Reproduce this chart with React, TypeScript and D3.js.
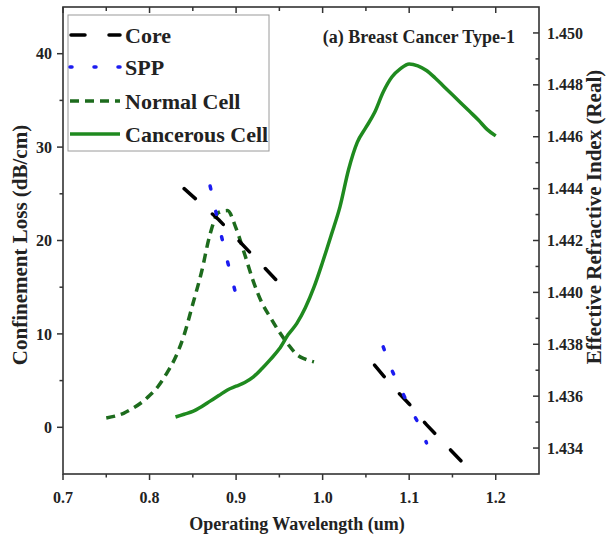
import * as d3 from "d3"

// operating wavelength (um) for each series
const coreWl = [0.84, 0.86, 0.88, 0.9, 0.92, 0.94, 0.96, 0.98, 1.0, 1.02, 1.04, 1.06, 1.08, 1.1, 1.12, 1.14, 1.16]
const coreNeff: (number | null)[] = [1.444, 1.4434, 1.4428, 1.4421, 1.4414, 1.4407, 1.44, null, null, null, null, 1.4372, 1.4364, 1.4357, 1.4349, 1.4342, 1.4335]

const sppWlA = [0.87, 0.88, 0.89, 0.9]
const sppNeffA = [1.4441, 1.4426, 1.4412, 1.4399]
const sppWlB = [1.07, 1.08, 1.09, 1.1, 1.11, 1.12]
const sppNeffB = [1.4379, 1.437, 1.4363, 1.4356, 1.435, 1.4342]

const normalWl = [0.75, 0.76, 0.77, 0.78, 0.79, 0.8, 0.81, 0.82, 0.83, 0.84, 0.85, 0.86, 0.87, 0.88, 0.89, 0.9, 0.91, 0.92, 0.93, 0.94, 0.95, 0.96, 0.97, 0.98, 0.99]
const normalLoss = [1.0, 1.2, 1.5, 2.0, 2.6, 3.4, 4.4, 5.8, 7.5, 9.9, 13.2, 16.6, 20.7, 23.0, 23.2, 21.3, 18.5, 15.6, 13.3, 11.7, 10.2, 8.9, 7.8, 7.3, 7.0]

const cancerWl = [0.83, 0.84, 0.85, 0.86, 0.87, 0.88, 0.89, 0.9, 0.91, 0.92, 0.93, 0.94, 0.95, 0.96, 0.97, 0.98, 0.99, 1.0, 1.01, 1.02, 1.03, 1.04, 1.05, 1.06, 1.07, 1.08, 1.09, 1.1, 1.11, 1.12, 1.13, 1.14, 1.15, 1.16, 1.17, 1.18, 1.19, 1.2]
const cancerLoss = [1.1, 1.4, 1.7, 2.2, 2.8, 3.4, 4.0, 4.4, 4.8, 5.4, 6.3, 7.3, 8.4, 9.9, 11.1, 12.8, 15.0, 17.7, 20.6, 23.6, 27.6, 30.5, 32.1, 33.7, 35.9, 37.5, 38.4, 38.9, 38.7, 38.2, 37.4, 36.5, 35.6, 34.7, 33.8, 32.9, 31.9, 31.2]

const xTicks = [0.7, 0.8, 0.9, 1.0, 1.1, 1.2]
const xMinor = [0.75, 0.85, 0.95, 1.05, 1.15]
const lossTicks = [0, 10, 20, 30, 40]
const lossMinor = [5, 15, 25, 35]
const neffTicks = [1.434, 1.436, 1.438, 1.44, 1.442, 1.444, 1.446, 1.448, 1.45]
const neffMinor = [1.435, 1.437, 1.439, 1.441, 1.443, 1.445, 1.447, 1.449]

const legendItems = ["Core", "SPP", "Normal Cell", "Cancerous Cell"]

const FONT = "'Liberation Serif', 'Times New Roman', serif"
const AXIS = "#333"

type Pt = [number, number | null]

export default function App() {
  const width = 608
  const height = 540
  const left = 63, right = 539, top = 7, bottom = 474

  const x = d3.scaleLinear().domain([0.7, 1.25]).range([left, right])
  const yL = d3.scaleLinear().domain([-5, 45]).range([bottom, top])
  const yR = d3.scaleLinear().domain([1.433, 1.451]).range([bottom, top])

  const lineR = d3
    .line<Pt>()
    .defined((d) => d[1] !== null)
    .x((d) => x(d[0]))
    .y((d) => yR(d[1] as number))
  const lineL = d3
    .line<Pt>()
    .x((d) => x(d[0]))
    .y((d) => yL(d[1] as number))
    .curve(d3.curveMonotoneX)

  const zip = (a: number[], b: (number | null)[]): Pt[] => a.map((v, i) => [v, b[i]])

  const styles = [
    { stroke: "#000", dash: "15,23", width: 3.5, cap: "round" },
    { stroke: "#1c1cf0", dash: "3,23", width: 3.5, cap: "round" },
    { stroke: "#1d6b1d", dash: "9,6", width: 3.5, cap: "butt" },
    { stroke: "#1f8a1f", dash: "none", width: 3.5, cap: "butt" },
  ]

  return (
    <svg width={width} height={height} style={{ position: "absolute", left: 0, top: 0, background: "#fff" }} fontFamily={FONT} fontWeight="bold">
      {/* series */}
      <path d={lineL(zip(normalWl, normalLoss)) ?? ""} fill="none" stroke={styles[2].stroke} strokeWidth={styles[2].width} strokeDasharray={styles[2].dash} />
      <path d={lineL(zip(cancerWl, cancerLoss)) ?? ""} fill="none" stroke={styles[3].stroke} strokeWidth={styles[3].width} />
      <path d={lineR(zip(coreWl, coreNeff)) ?? ""} fill="none" stroke="#000" strokeWidth={3.5} strokeDasharray={styles[0].dash} strokeLinecap="round" />
      <path d={lineR(zip(sppWlA, sppNeffA)) ?? ""} fill="none" stroke={styles[1].stroke} strokeWidth={3.5} strokeDasharray={styles[1].dash} strokeLinecap="round" />
      <path d={lineR(zip(sppWlB, sppNeffB)) ?? ""} fill="none" stroke={styles[1].stroke} strokeWidth={3.5} strokeDasharray={styles[1].dash} strokeLinecap="round" />

      {/* frame */}
      <rect x={left} y={top} width={right - left} height={bottom - top} fill="none" stroke={AXIS} strokeWidth={1.6} />

      {/* bottom + top ticks */}
      {xTicks.map((t) => (
        <g key={"x" + t}>
          <line x1={x(t)} x2={x(t)} y1={bottom} y2={bottom + 6} stroke={AXIS} strokeWidth={1.5} />
          <line x1={x(t)} x2={x(t)} y1={top} y2={top + 6} stroke={AXIS} strokeWidth={1.5} />
          <text x={x(t)} y={503} textAnchor="middle" fontSize={16} fill="#222">{t.toFixed(1)}</text>
        </g>
      ))}
      {xMinor.map((t) => (
        <g key={"xm" + t}>
          <line x1={x(t)} x2={x(t)} y1={bottom} y2={bottom + 3.5} stroke={AXIS} strokeWidth={1.5} />
          <line x1={x(t)} x2={x(t)} y1={top} y2={top + 4} stroke={AXIS} strokeWidth={1.5} />
        </g>
      ))}

      {/* left axis */}
      {lossTicks.map((t) => (
        <g key={"l" + t}>
          <line x1={left - 6} x2={left} y1={yL(t)} y2={yL(t)} stroke={AXIS} strokeWidth={1.5} />
          <text x={left - 11} y={yL(t)} dy="0.35em" textAnchor="end" fontSize={16} fill="#222">{t}</text>
        </g>
      ))}
      {lossMinor.map((t) => (
        <line key={"lm" + t} x1={left - 3.5} x2={left} y1={yL(t)} y2={yL(t)} stroke={AXIS} strokeWidth={1.5} />
      ))}

      {/* right axis */}
      {neffTicks.map((t) => (
        <g key={"r" + t}>
          <line x1={right - 6} x2={right} y1={yR(t)} y2={yR(t)} stroke={AXIS} strokeWidth={1.5} />
          <text x={right + 8} y={yR(t)} dy="0.35em" textAnchor="start" fontSize={16} fill="#222">{t.toFixed(3)}</text>
        </g>
      ))}
      {neffMinor.map((t) => (
        <line key={"rm" + t} x1={right - 3.5} x2={right} y1={yR(t)} y2={yR(t)} stroke={AXIS} strokeWidth={1.5} />
      ))}

      {/* axis titles */}
      <text x={(left + right) / 2 - 4} y={530} textAnchor="middle" fontSize={18} fill="#222">Operating Wavelength (um)</text>
      <text transform={`translate(27,245) rotate(-90)`} textAnchor="middle" fontSize={21} fill="#222">Confinement Loss (dB/cm)</text>
      <text transform={`translate(601,217) rotate(-90)`} textAnchor="middle" fontSize={21} fill="#222">Effective Refractive Index (Real)</text>

      {/* panel title */}
      <text x={515} y={43} textAnchor="end" fontSize={18} fill="#222">(a) Breast Cancer Type-1</text>

      {/* legend */}
      <rect x={68} y={15} width={201} height={136} fill="#fff" stroke="#9a9a9a" strokeWidth={1} />
      {legendItems.map((name, i) => {
        const ly = [35, 67, 101, 134][i]
        const s = styles[i]
        return (
          <g key={name}>
            <line x1={i === 0 ? 71 : 70} x2={120} y1={ly} y2={ly} stroke={s.stroke} strokeWidth={s.width} strokeDasharray={i === 0 ? "14,24" : i === 1 ? "2,22" : s.dash} strokeLinecap={s.cap as "round" | "butt"} />
            <text x={125} y={ly} dy="0.35em" fontSize={22} fill="#222">{name}</text>
          </g>
        )
      })}
    </svg>
  )
}
